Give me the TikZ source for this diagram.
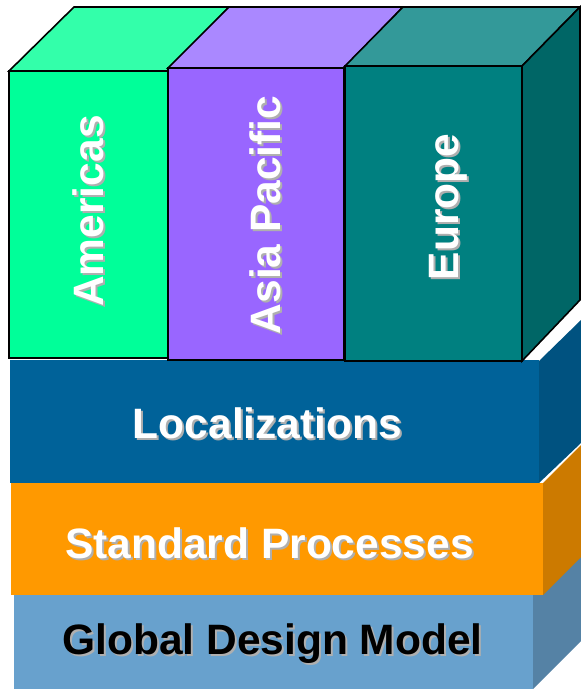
\documentclass[tikz,border=0pt]{standalone}
\usepackage{fontspec}
\setmainfont{Liberation Sans}
\definecolor{amerfront}{RGB}{0,255,153}
\definecolor{amertop}{RGB}{51,255,170}
\definecolor{asiafront}{RGB}{153,102,255}
\definecolor{asiatop}{RGB}{170,136,255}
\definecolor{eurofront}{RGB}{0,128,128}
\definecolor{eurotop}{RGB}{51,153,153}
\definecolor{euroside}{RGB}{0,102,102}
\definecolor{locfront}{RGB}{0,98,153}
\definecolor{locside}{RGB}{0,82,128}
\definecolor{stdfront}{RGB}{255,153,0}
\definecolor{stdside}{RGB}{204,122,0}
\definecolor{gdmfront}{RGB}{104,161,205}
\definecolor{gdmside}{RGB}{85,130,165}
\definecolor{shadowgray}{RGB}{175,175,175}

% text with a grey drop shadow, #1 = sideways shift of the shadow
\newcommand{\castshadow}[2][2pt]{\rlap{\kern#1\raisebox{-2pt}{\textcolor{shadowgray}{#2}}}#2}

\tikzset{
  layertext/.style={font=\bfseries\fontsize{42.5}{48}\selectfont, inner sep=0pt, anchor=base},
  boxline/.style={draw=black, line width=1.6pt},
}

\begin{document}
\begin{tikzpicture}[x=1pt,y=-1pt]
\useasboundingbox (0,0) rectangle (581,689);

% Global Design Model
\fill[gdmside] (533,595) -- (581,547) -- (581,641) -- (533,689) -- cycle;
\fill[gdmfront] (14,595) rectangle (533,689);
\node[layertext, text=black] (gdm) at (272.5,654) {\castshadow{Global Design Model}};

% Standard Processes
\fill[stdside] (543,483) -- (581,445) -- (581,557) -- (543,595) -- cycle;
\fill[stdfront] (10.5,483) rectangle (543,595);
\node[layertext, text=white] (std) at (269.5,558) {\castshadow{Standard Processes}};

% Localizations
\fill[locside] (539,361) -- (581,320) -- (581,443) -- (539,483) -- cycle;
\fill[locfront] (10,360) rectangle (539,483);
\node[layertext, text=white] (loc) at (267.5,438) {\castshadow{Localizations}};

% regional boxes
\filldraw[boxline, fill=amerfront] (9,71) rectangle (168,358);
\filldraw[boxline, fill=amertop] (9,71) -- (74,7) -- (229,7) -- (168,71) -- cycle;
\filldraw[boxline, fill=asiafront] (168,68) rectangle (344,360);
\filldraw[boxline, fill=asiatop] (168,68) -- (229,7) -- (403,7) -- (344,68) -- cycle;
\filldraw[boxline, fill=eurofront] (345,66) rectangle (522,361);
\filldraw[boxline, fill=eurotop] (345,66) -- (403,7) -- (580,7) -- (522,66) -- cycle;
\filldraw[boxline, fill=euroside] (522,66) -- (580,7) -- (580,300) -- (522,361) -- cycle;

\node[layertext, rotate=90, text=white] (amer) at (103,211) {\castshadow[-2pt]{Americas}};
\node[layertext, rotate=90, text=white] (asia) at (280,215) {\castshadow[-2pt]{Asia Pacific}};
\node[layertext, rotate=90, text=white] (euro) at (458,207) {\castshadow[-2pt]{Europe}};
\end{tikzpicture}
\end{document}
